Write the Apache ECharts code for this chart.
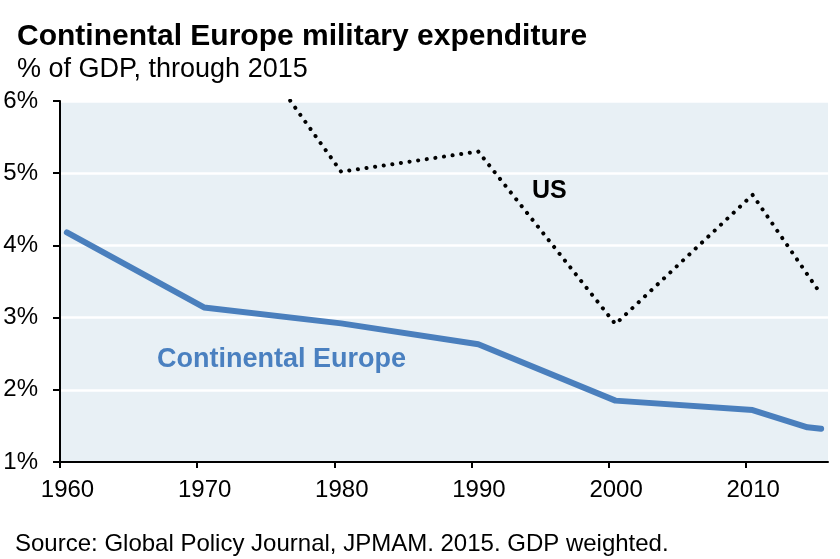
<!DOCTYPE html>
<html>
<head>
<meta charset="utf-8">
<script src="https://cdn.jsdelivr.net/npm/echarts@6/dist/echarts.min.js"></script>
<style>
html,body{margin:0;padding:0;background:#ffffff;}
#chart{width:840px;height:559px;}
</style>
</head>
<body>
<div id="chart"></div>
<script>
// Data (years are annual observations, plotted at mid-year)
const europeYears = [1960, 1970, 1980, 1990, 2000, 2010, 2014, 2015];
const europeValues = [4.18, 3.14, 2.92, 2.63, 1.85, 1.72, 1.48, 1.46];
const usYears = [1970, 1980, 1990, 2000, 2010, 2015];
const usValues = [7.67, 5.02, 5.30, 2.91, 4.70, 3.32];
const xTickYears = [1960, 1970, 1980, 1990, 2000, 2010];
const yTicks = [1, 2, 3, 4, 5, 6];

const FONT = '"Liberation Sans", Arial, sans-serif';
const midYear = y => y + 0.5;
const europeData = europeYears.map((y, i) => [midYear(y), europeValues[i]]);
const usData = usYears.map((y, i) => [midYear(y), usValues[i]]);

const chart = echarts.init(document.getElementById('chart'), null, {renderer: 'canvas'});
chart.setOption({
  backgroundColor: '#ffffff',
  animation: false,
  title: [
    {text: 'Continental Europe military expenditure', left: 12, top: 17, padding: 5,
     textStyle: {fontFamily: FONT, fontSize: 30, fontWeight: 'bold', color: '#000'}},
    {text: '% of GDP, through 2015', left: 12, top: 51, padding: 5,
     textStyle: {fontFamily: FONT, fontSize: 27, fontWeight: 'normal', color: '#000'}},
    {text: 'Source: Global Policy Journal, JPMAM. 2015. GDP weighted.', left: 10, top: 527, padding: 5,
     textStyle: {fontFamily: FONT, fontSize: 24, fontWeight: 'normal', color: '#000'}}
  ],
  grid: {left: 60, right: 12, top: 101, bottom: 97, show: true,
         backgroundColor: '#e8f0f5', borderWidth: 0},
  xAxis: {
    type: 'value', min: 1960, max: 2016, interval: 10,
    axisLine: {show: true, lineStyle: {color: '#000', width: 2}},
    axisTick: {show: true, length: 6, lineStyle: {color: '#000', width: 2}, customValues: xTickYears},
    axisLabel: {customValues: xTickYears, margin: 16, padding: [0, 0, 0, 15],
                fontFamily: FONT, fontSize: 24, color: '#000', formatter: v => String(v)},
    splitLine: {show: false}
  },
  yAxis: {
    type: 'value', min: 1, max: 6, interval: 1,
    axisLine: {show: true, lineStyle: {color: '#000', width: 2}},
    axisTick: {show: true, length: 7, lineStyle: {color: '#000', width: 2}},
    axisLabel: {margin: 22, fontFamily: FONT, fontSize: 24, color: '#000',
                formatter: v => v + '%'},
    splitLine: {show: true, lineStyle: {color: '#ffffff', width: 2.5}}
  },
  graphic: [
    {type: 'text', left: 532, top: 179, style: {text: 'US', font: 'bold 25px ' + FONT, fill: '#000'}},
    {type: 'text', left: 157, top: 346, style: {text: 'Continental Europe', font: 'bold 27px ' + FONT, fill: '#4a80c0'}}
  ],
  series: [
    {type: 'line', name: 'US', data: usData, showSymbol: false, clip: true,
     lineStyle: {color: '#000', width: 4, type: [0.1, 8.6], cap: 'round', join: 'round'}},
    {type: 'line', name: 'Continental Europe', data: europeData, showSymbol: false, clip: true,
     lineStyle: {color: '#4a7fbd', width: 6, cap: 'round', join: 'round'}}
  ]
});
</script>
</body>
</html>
